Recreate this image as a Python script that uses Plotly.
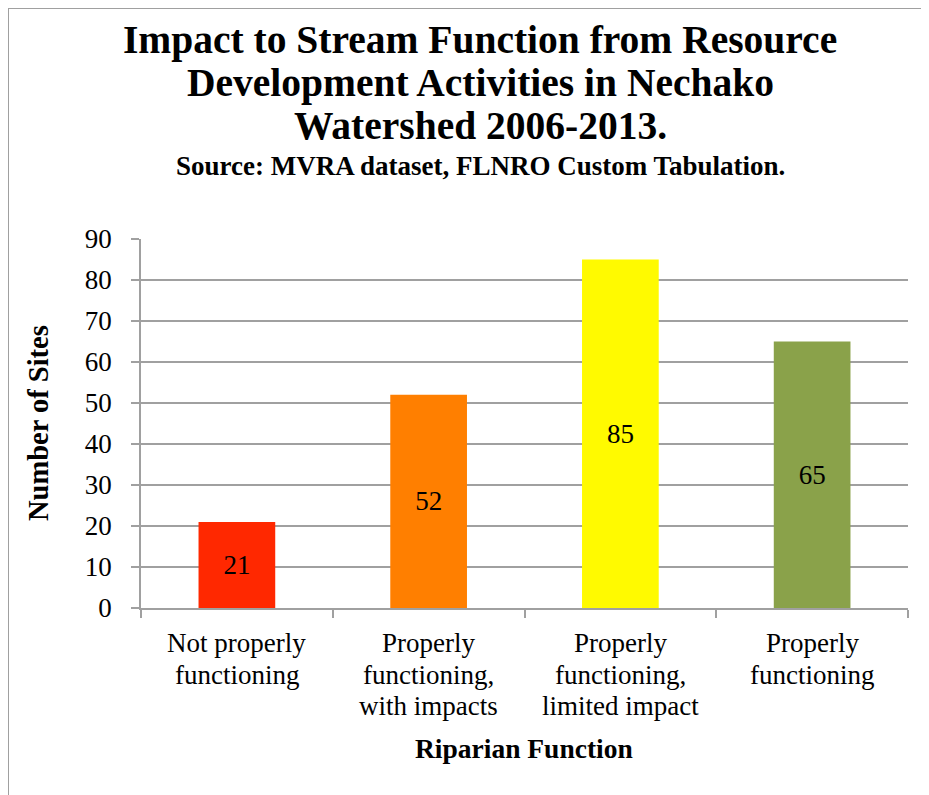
import plotly.graph_objects as go

categories = ["Not properly functioning", "Properly functioning, with impacts",
              "Properly functioning, limited impact", "Properly functioning"]
category_label_lines = [["Not properly", "functioning"],
                        ["Properly", "functioning,", "with impacts"],
                        ["Properly", "functioning,", "limited impact"],
                        ["Properly", "functioning"]]
values = [21, 52, 85, 65]
colors = ["#FF2800", "#FF7F00", "#FFFA00", "#8AA24A"]
y_ticks = [0, 10, 20, 30, 40, 50, 60, 70, 80, 90]

title_lines = ["Impact to Stream Function from Resource",
               "Development Activities in Nechako",
               "Watershed 2006-2013."]
subtitle = "Source: MVRA dataset, FLNRO Custom Tabulation."
y_title = "Number of Sites"
x_title = "Riparian Function"

FONT = "Liberation Serif"
GRID = "#A0A0A0"
OFF = 8  # page body margin

fig = go.Figure(go.Bar(
    x=categories, y=values, marker=dict(color=colors, line=dict(width=0)),
    width=0.4, text=values, textposition="inside", insidetextanchor="middle",
    textfont=dict(family=FONT, size=27, color="black"), textangle=0,
))

W, H = 929 - OFF, 795 - OFF
L, R, T, B = 141 - OFF, 21, 239 - OFF, 187

fig.update_layout(
    width=W, height=H, margin=dict(l=L, r=R, t=T, b=B),
    paper_bgcolor="white", plot_bgcolor="white", showlegend=False,
    font=dict(family=FONT, size=27, color="black"),
    bargap=0.6,
)
fig.update_yaxes(range=[0, 90], tickvals=y_ticks, showgrid=True, gridcolor=GRID, gridwidth=1.5,
                 showline=True, linecolor=GRID, linewidth=1.5, ticks="outside", ticklen=8,
                 tickcolor=GRID, tickwidth=1.5, zeroline=False, ticklabelstandoff=14,
                 tickfont=dict(family=FONT, size=27))
fig.update_xaxes(showline=True, linecolor=GRID, linewidth=1.5, ticks="outside", tickson="boundaries",
                 ticklen=8, tickcolor=GRID, tickwidth=1.5, showticklabels=False)

pw = W - L - R
ph = H - T - B
def px(x):
    return (x - OFF - L) / pw
def py(y):
    return (H - B - (y - OFF)) / ph

def txt(s, x, y, size, bold=False, xref="paper", angle=0):
    fig.add_annotation(text=("<b>%s</b>" % s) if bold else s, x=x, y=py(y), xref=xref, yref="paper",
                       showarrow=False, xanchor="center", yanchor="middle", textangle=angle,
                       font=dict(family=FONT, size=size, color="black"))

for line, yc in zip(title_lines, [40, 83, 126]):
    txt(line, px(480), yc, 39.5, bold=True)
txt(subtitle, px(480), 166, 27, bold=True)

for cat, lines in zip(categories, category_label_lines):
    for j, line in enumerate(lines):
        txt(line, cat, 643 + 31.5 * j, 27, xref="x")

txt(y_title, px(38), 423, 28.5, bold=True, angle=-90)
txt(x_title, px(524), 748, 27.5, bold=True)

fig.add_shape(type="rect", xref="paper", yref="paper", x0=px(8), x1=px(949), y0=py(8), y1=py(815),
              line=dict(color="#A0A0A0", width=2), fillcolor="rgba(0,0,0,0)", layer="below")

fig.write_html("out.html")
